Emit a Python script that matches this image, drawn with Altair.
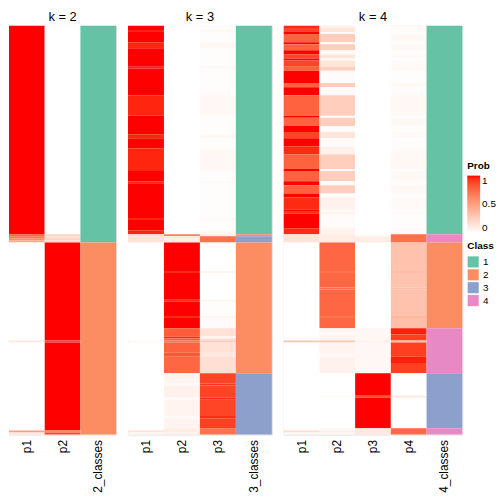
import altair as alt
import pandas as pd

N_ROWS = 200

# ---------------- k = 2 (run-length: (value, number of samples)) -------------
k2_p1 = [(1.0, 102), (0.78, 1), (0.7, 1), (0.6, 1), (0.45, 1), (0.0, 48), (0.12, 1),
         (0.0, 42), (0.02, 1), (0.5, 1), (0.12, 1)]
k2_p2 = [(0.0, 102), (0.22, 1), (0.18, 1), (0.25, 1), (0.2, 1), (1.0, 48), (0.88, 1),
         (1.0, 42), (1.0, 1), (0.6, 1), (0.88, 1)]
k2_cls = [(1, 106), (2, 94)]

# ---------------- k = 3 -------------------------------------------------------
k3a_rows = [2, 1, 5, 3, 9, 1, 13, 10, 9, 2, 5, 11, 5, 1, 17, 1, 5, 2]
k3a_p1 = [1.0, 0.96, 1.0, 0.96, 1.0, 0.96, 1.0, 0.96, 1.0, 0.96, 1.0, 0.96, 1.0, 0.96, 1.0, 0.96, 1.0, 0.96]
k3a_p3 = [0.01, 0.04, 0.01, 0.04, 0.01, 0.04, 0.01, 0.04, 0.01, 0.04, 0.01, 0.04, 0.01, 0.04, 0.01, 0.04, 0.01, 0.04]
k3_p1_rest = [(0.2, 1), (0.15, 3), (0.0, 48), (0.04, 1), (0.0, 42), (0.02, 1), (0.15, 1), (0.05, 1)]
k3_p2_rest = [(0.65, 1), (0.1, 3),
              (1.0, 14), (0.95, 1), (1.0, 13), (0.95, 1), (1.0, 7), (0.95, 1), (1.0, 5),
              (0.8, 4), (0.95, 1), (0.8, 1), (0.7, 1), (0.78, 5), (0.82, 2), (0.76, 8),
              (0.06, 5), (0.03, 1), (0.07, 6), (0.02, 1), (0.06, 8), (0.03, 1), (0.06, 5),
              (0.1, 2), (0.08, 1)]
k3_p3_rest = [(0.1, 1), (0.72, 3),
              (0.0, 14), (0.05, 1), (0.0, 13), (0.05, 1), (0.01, 7), (0.05, 1), (0.02, 5),
              (0.16, 4), (0.05, 1), (0.18, 1), (0.28, 1), (0.16, 5), (0.12, 2), (0.17, 8),
              (0.88, 5), (0.92, 1), (0.88, 6), (0.95, 1), (0.88, 8), (0.94, 1), (0.9, 5),
              (0.72, 3)]
k3_cls = [(1, 102), (2, 1), (3, 3), (2, 64), (3, 30)]

# ---------------- k = 4 -------------------------------------------------------
k4a_rows = [1, 2, 1, 4, 1, 3, 2, 2, 1, 3, 2, 6, 2, 4, 10, 1, 4, 3, 3, 4, 4, 7, 1, 5, 2, 4, 2, 6, 1, 1, 7, 3]
k4a_p1 = [0.95, 0.88, 1.0, 0.78, 1.0, 0.78, 1.0, 0.88, 1.0, 0.88, 0.78, 1.0, 0.78, 1.0, 0.78, 1.0,
          0.78, 1.0, 0.88, 1.0, 0.95, 0.78, 1.0, 0.78, 1.0, 0.78, 1.0, 0.95, 1.0, 0.95, 1.0, 0.95]
k4a_p2 = [0.07, 0.14, 0.02, 0.26, 0.02, 0.26, 0.02, 0.14, 0.02, 0.14, 0.26, 0.02, 0.26, 0.02, 0.26, 0.02,
          0.26, 0.02, 0.14, 0.02, 0.07, 0.26, 0.02, 0.26, 0.02, 0.26, 0.02, 0.07, 0.02, 0.07, 0.02, 0.07]
k4a_p4 = [0.03, 0.03, 0.01, 0.04, 0.01, 0.04, 0.01, 0.03, 0.01, 0.03, 0.04, 0.01, 0.04, 0.01, 0.04, 0.01,
          0.04, 0.01, 0.03, 0.01, 0.03, 0.04, 0.01, 0.04, 0.01, 0.04, 0.01, 0.03, 0.01, 0.03, 0.01, 0.03]
k4_p1_rest = [(0.15, 4), (0.0, 48), (0.3, 1), (0.0, 42), (0.02, 1), (0.18, 1), (0.04, 1)]
k4_p2_rest = [(0.1, 4),
              (0.76, 14), (0.72, 1), (0.76, 7), (0.72, 1), (0.76, 13), (0.7, 1), (0.76, 5),
              (0.06, 2), (0.02, 1), (0.06, 3), (0.3, 1), (0.06, 6), (0.02, 1), (0.07, 8),
              (0.0, 11), (0.04, 1), (0.0, 15),
              (0.03, 1), (0.08, 1), (0.06, 1)]
k4_p3_rest = [(0.02, 1), (0.1, 3), (0.0, 42),
              (0.04, 6), (0.08, 1), (0.04, 15),
              (1.0, 11), (0.85, 1), (1.0, 15),
              (0.12, 3)]
k4_p4_rest = [(0.72, 4),
              (0.32, 14), (0.36, 1), (0.32, 7), (0.36, 1), (0.32, 13), (0.38, 1), (0.34, 5),
              (0.97, 3), (0.9, 3), (0.35, 1), (0.9, 7), (0.97, 3), (0.9, 5),
              (0.0, 11), (0.12, 1), (0.0, 15),
              (0.75, 3)]
k4_cls = [(1, 102), (4, 4), (2, 42), (4, 22), (3, 27), (4, 3)]

class_names = ["1", "2", "3", "4"]
class_colors = ["#66C2A5", "#FC8D62", "#8DA0CB", "#E78AC3"]
prob_ticks = [0, 0.5, 1]
panel_widths = [108, 145, 180]
PANEL_H = 412
FONT = "Liberation Sans"


def expand(runs):
    out = []
    for v, n in runs:
        out.extend([v] * n)
    return out


def blocks(counts, values):
    return [(v, n) for v, n in zip(values, counts)]


def merge(values):
    rects, start = [], 0
    for i in range(1, len(values) + 1):
        if i == len(values) or values[i] != values[start]:
            rects.append((start, i, values[start]))
            start = i
    return rects


k2_probs = [expand(k2_p1), expand(k2_p2)]
k3_probs = [expand(blocks(k3a_rows, k3a_p1) + k3_p1_rest),
            expand([(0.0, 102)] + k3_p2_rest),
            expand(blocks(k3a_rows, k3a_p3) + k3_p3_rest)]
k4_probs = [expand(blocks(k4a_rows, k4a_p1) + k4_p1_rest),
            expand(blocks(k4a_rows, k4a_p2) + k4_p2_rest),
            expand([(0.0, 102)] + k4_p3_rest),
            expand(blocks(k4a_rows, k4a_p4) + k4_p4_rest)]


def panel(k, probs, cls_runs, width):
    cols = [f"p{j + 1}" for j in range(k)] + [f"{k}_classes"]
    prob_rows = []
    for name, vals in zip(cols[:-1], probs):
        for s, e, v in merge(vals):
            prob_rows.append({"col": name, "y0": s, "y1": e, "Prob": v})
    cls_rows = [{"col": cols[-1], "y0": s, "y1": e, "Class": str(v)}
                for s, e, v in merge(expand(cls_runs))]
    x = alt.X("col:N", sort=cols,
              scale=alt.Scale(domain=cols, paddingInner=0, paddingOuter=0),
              axis=alt.Axis(title=None, labelAngle=270, labelAlign="right",
                            labelBaseline="middle", labelFontSize=12, labelFont=FONT,
                            labelColor="#000000", ticks=False, domain=False,
                            labelPadding=5))
    y = alt.Y("y0:Q", scale=alt.Scale(domain=[0, N_ROWS], reverse=True, nice=False, zero=False),
              axis=None)
    y2 = alt.Y2("y1:Q")
    prob = alt.Chart(pd.DataFrame(prob_rows)).mark_rect(strokeWidth=0).encode(
        x=x, y=y, y2=y2,
        color=alt.Color("Prob:Q",
                        scale=alt.Scale(domain=[0, 1], range=["#FFFFFF", "#FF0000"],
                                        interpolate="lab"),
                        legend=alt.Legend(title="Prob", values=prob_ticks, format="~g",
                                          orient="none", legendX=462, legendY=136,
                                          gradientLength=58, gradientThickness=13,
                                          labelFontSize=10, titleFontSize=10,
                                          labelFont=FONT, titleFont=FONT, labelOverlap=False,
                                          labelColor="#000000", titleColor="#000000",
                                          direction="vertical")))
    klass = alt.Chart(pd.DataFrame(cls_rows)).mark_rect(strokeWidth=0).encode(
        x=x, y=y, y2=y2,
        fill=alt.Fill("Class:N",
                      scale=alt.Scale(domain=class_names, range=class_colors),
                      legend=alt.Legend(title="Class", orient="none", legendX=462, legendY=217,
                                        symbolType="square", symbolSize=125,
                                        symbolStrokeWidth=0, labelFontSize=10,
                                        titleFontSize=10, labelFont=FONT, titleFont=FONT,
                                        labelColor="#000000", titleColor="#000000",
                                        rowPadding=1)))
    return alt.layer(prob, klass).properties(
        width=width, height=PANEL_H,
        title=alt.TitleParams(f"k = {k}", fontSize=13, fontWeight="normal", font=FONT,
                              anchor="middle", offset=2, color="#000000"))


chart = alt.hconcat(
    panel(2, k2_probs, k2_cls, panel_widths[0]),
    panel(3, k3_probs, k3_cls, panel_widths[1]),
    panel(4, k4_probs, k4_cls, panel_widths[2]),
    spacing=10,
).resolve_scale(color="shared", fill="shared").properties(
    padding={"left": 0, "top": 0, "right": 0, "bottom": 0}
).configure_view(stroke="#666666", strokeWidth=1).configure(background="white")

chart.save("out.html", embed_options={"renderer": "svg", "actions": False})
